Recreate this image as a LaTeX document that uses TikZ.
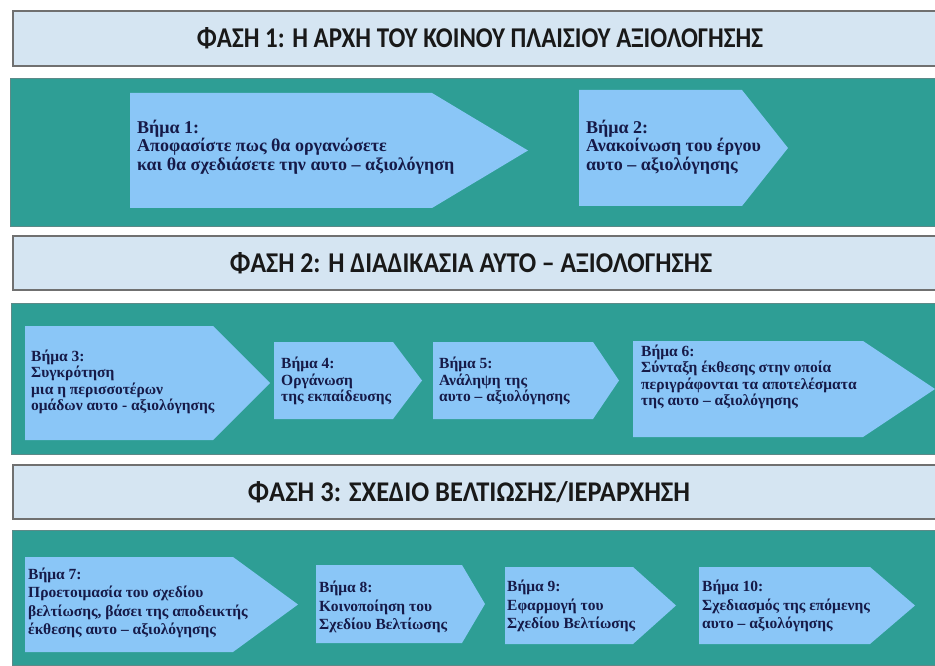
\documentclass[tikz,border=0pt]{standalone}
\usepackage{fontspec}
\setmainfont{Liberation Serif}
\newfontfamily\headfont{Carlito}

\definecolor{phasefill}{RGB}{213,229,242}
\definecolor{phaseline}{RGB}{112,112,112}
\definecolor{bandteal}{RGB}{46,158,149}
\definecolor{bandline}{RGB}{92,138,136}
\definecolor{stepblue}{RGB}{138,198,247}
\definecolor{stepink}{RGB}{22,26,72}

\tikzset{
  phasebar/.style={fill=phasefill, draw=phaseline, line width=1.2pt},
  band/.style={fill=bandteal, draw=bandline, line width=1pt},
  chevron/.style={fill=stepblue},
  phasetitle/.style={inner sep=0pt, text=black!90},
  steptext/.style={anchor=west, align=left, inner sep=0pt, text=stepink},
  bigstep/.style={steptext, font=\bfseries\fontsize{18}{18.5}\selectfont},
  midstep/.style={steptext, font=\bfseries\fontsize{15.5}{16.5}\selectfont},
  lowstep/.style={steptext, font=\bfseries\fontsize{15.5}{18.5}\selectfont},
}

% chevron: left, top, end of straight body, tip, bottom
\newcommand\stepchevron[5]{%
  \fill[chevron] (#1,#2) -- (#3,#2) -- (#4,{(#2+#5)/2}) -- (#3,#5) -- (#1,#5) -- cycle;}

\begin{document}
\begin{tikzpicture}[x=1pt, y=-1pt]
\useasboundingbox (0,0) rectangle (935,666);
\fill[white] (0,0) rectangle (935,666);

% ---------- phase 1 ----------
\draw[phasebar] (13,11) rectangle (945,66);
\node[phasetitle] (phase1) at (480,38.5)
  {\resizebox{566pt}{20pt}{\headfont\bfseries ΦΑΣΗ 1: Η ΑΡΧΗ ΤΟΥ ΚΟΙΝΟΥ ΠΛΑΙΣΙΟΥ ΑΞΙΟΛΟΓΗΣΗΣ}};
\draw[band] (10,79) rectangle (945,226);

\stepchevron{130}{93}{432}{528}{208}
\node[bigstep] (step1) at (137,147)
  {Βήμα 1:\\Αποφασίστε πως θα οργανώσετε\\και θα σχεδιάσετε την αυτο – αξιολόγηση};
\stepchevron{579}{90}{742}{788}{206}
\node[bigstep] (step2) at (586,147)
  {Βήμα 2:\\Ανακοίνωση του έργου\\αυτο – αξιολόγησης};

% ---------- phase 2 ----------
\draw[phasebar] (13,236) rectangle (945,290);
\node[phasetitle] (phase2) at (471,263)
  {\resizebox{482pt}{20pt}{\headfont\bfseries ΦΑΣΗ 2: Η ΔΙΑΔΙΚΑΣΙΑ ΑΥΤΟ – ΑΞΙΟΛΟΓΗΣΗΣ}};
\draw[band] (11,303) rectangle (945,454);

\stepchevron{25}{326}{213}{270}{440}
\node[midstep] (step3) at (31,382)
  {Βήμα 3:\\Συγκρότηση\\μια η περισσοτέρων\\ομάδων αυτο - αξιολόγησης};
\stepchevron{274}{342}{393}{422}{419}
\node[midstep] (step4) at (281,381)
  {Βήμα 4:\\Οργάνωση\\της εκπαίδευσης};
\stepchevron{433}{342}{593}{619}{419}
\node[midstep] (step5) at (439,381)
  {Βήμα 5:\\Ανάληψη της\\αυτο – αξιολόγησης};
\stepchevron{633}{341}{863}{935}{437}
\node[midstep] (step6) at (641,377)
  {Βήμα 6:\\Σύνταξη έκθεσης στην οποία\\περιγράφονται τα αποτελέσματα\\της αυτο – αξιολόγησης};

% ---------- phase 3 ----------
\draw[phasebar] (13,465) rectangle (945,519);
\node[phasetitle] (phase3) at (469,492)
  {\resizebox{442pt}{20pt}{\headfont\bfseries ΦΑΣΗ 3: ΣΧΕΔΙΟ ΒΕΛΤΙΩΣΗΣ/ΙΕΡΑΡΧΗΣΗ}};
\draw[band] (12,530) rectangle (945,665);

\stepchevron{25}{557}{233}{298}{652}
\node[lowstep] (step7) at (28,603)
  {Βήμα 7:\\Προετοιμασία του σχεδίου\\βελτίωσης, βάσει της αποδεικτής\\έκθεσης αυτο – αξιολόγησης};
\stepchevron{316}{565}{462}{485}{643}
\node[lowstep] (step8) at (319,607)
  {Βήμα 8:\\Κοινοποίηση του\\Σχεδίου Βελτίωσης};
\stepchevron{505}{567}{633}{676}{644}
\node[lowstep] (step9) at (507,606)
  {Βήμα 9:\\Εφαρμογή του\\Σχεδίου Βελτίωσης};
\stepchevron{699}{567}{870}{915}{644}
\node[lowstep] (step10) at (702,606)
  {Βήμα 10:\\Σχεδιασμός της επόμενης\\αυτο – αξιολόγησης};
\end{tikzpicture}
\end{document}
